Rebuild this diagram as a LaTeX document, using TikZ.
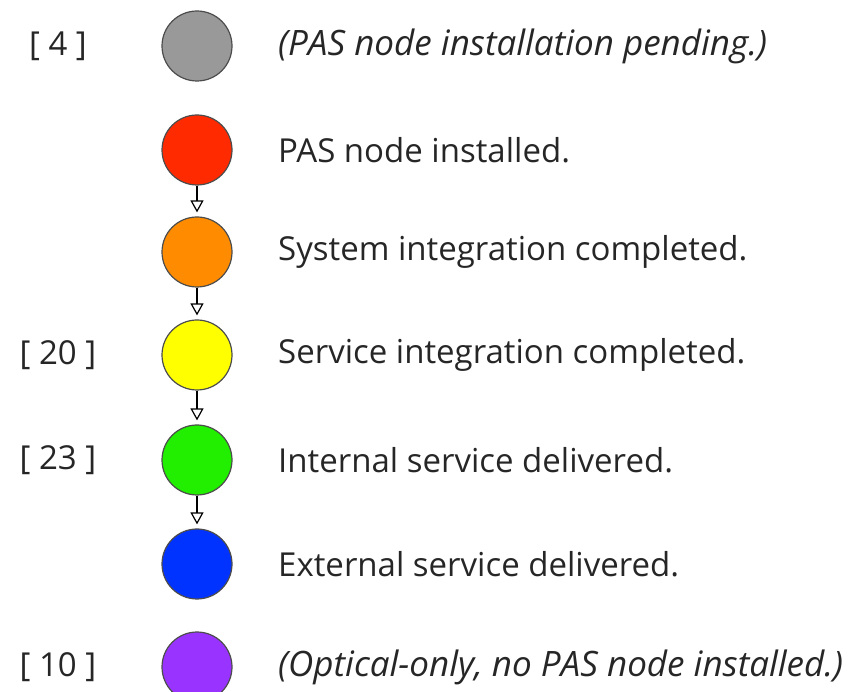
\documentclass[tikz,border=0pt]{standalone}
\usepackage{fontspec}
\setmainfont{Open Sans}
\usetikzlibrary{arrows.meta}
\definecolor{cpending}{HTML}{999999}
\definecolor{cinstalled}{HTML}{FF2A00}
\definecolor{csysint}{HTML}{FF8C00}
\definecolor{csrvint}{HTML}{FFFF00}
\definecolor{cinternal}{HTML}{22EE00}
\definecolor{cexternal}{HTML}{0033FF}
\definecolor{coptical}{HTML}{9933FF}
\begin{document}
\begin{tikzpicture}[x=1pt, y=-1pt, font=\fontsize{33}{40}\selectfont, line join=round, >={Triangle[open, length=12pt, width=13pt]}]
\useasboundingbox (0,0) rectangle (855,692);
\tikzset{stage/.style={circle, draw=black!70, line width=1.2pt, minimum size=70pt, inner sep=0pt},
	stagetext/.style={anchor=west, inner sep=3pt, text=black!85},
	notetext/.style={stagetext, font=\fontsize{35}{42}\selectfont\itshape},
	refnum/.style={inner sep=0pt, text=black!85}}
\node[stage, fill=cpending] (pending) at (197,46) {};
\node[stage, fill=cinstalled] (installed) at (197,150) {};
\node[stage, fill=csysint] (sysint) at (197,252) {};
\node[stage, fill=csrvint] (srvint) at (197,355) {};
\node[stage, fill=cinternal] (internal) at (197,460) {};
\node[stage, fill=cexternal] (external) at (197,564) {};
\node[stage, fill=coptical] (optical) at (197,667) {};
% descriptions
\node[notetext] (tpending) at (275,46) {(PAS node installation pending.)};
\node[stagetext] (tinstalled) at (275,150) {PAS node installed.};
\node[stagetext] (tsysint) at (275,252) {System integration completed.};
\node[stagetext] (tsrvint) at (275,355) {Service integration completed.};
\node[stagetext] (tinternal) at (275,460) {Internal service delivered.};
\node[stagetext] (texternal) at (275,564) {External service delivered.};
\node[notetext] (toptical) at (275,667) {(Optical-only, no PAS node installed.)};
% counts
\node[refnum] (npending) at (58,46) {[ 4 ]};
\node[refnum] (nsrvint) at (58,355) {[ 20 ]};
\node[refnum] (ninternal) at (58,460) {[ 23 ]};
\node[refnum] (noptical) at (58,667) {[ 10 ]};
\foreach \a/\b in {installed/sysint, sysint/srvint, srvint/internal, internal/external}
	\draw[->, line width=1.2pt, shorten >=4pt] (\a) -- (\b);
\end{tikzpicture}
\end{document}
